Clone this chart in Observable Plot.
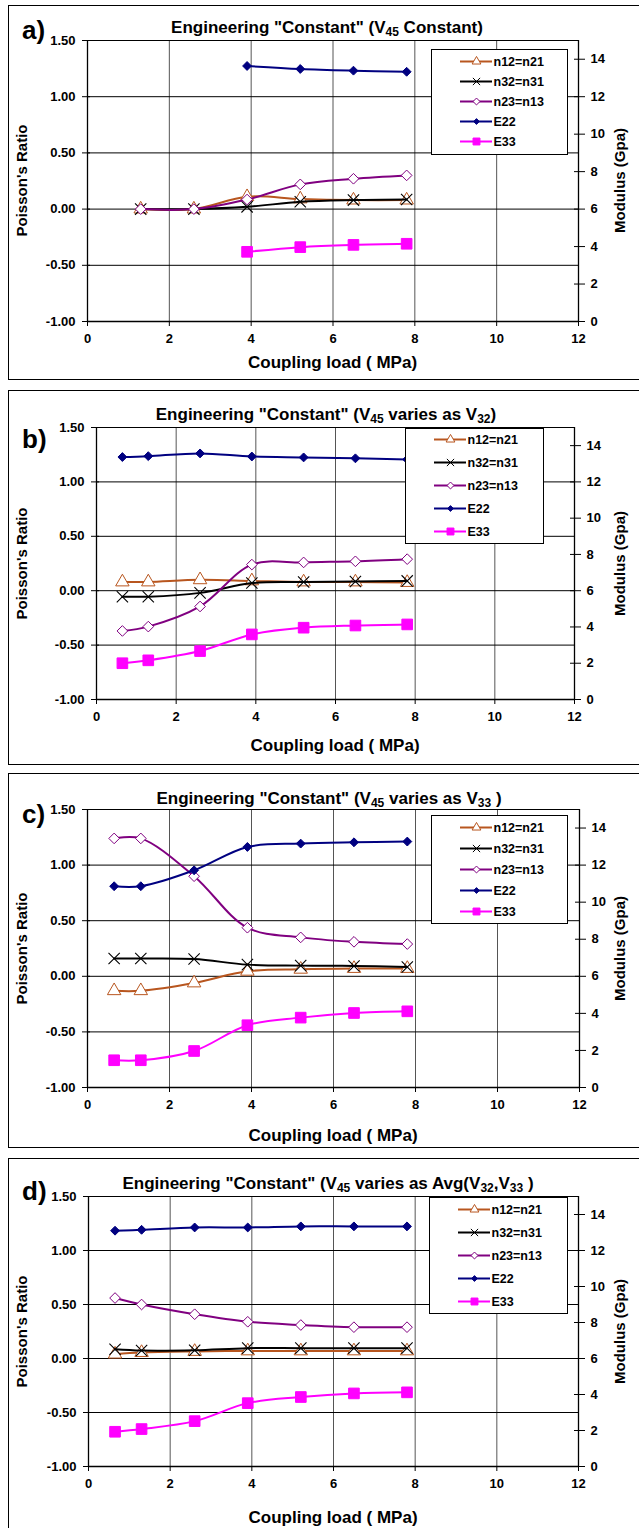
<!DOCTYPE html>
<html><head><meta charset="utf-8">
<script src="https://cdn.jsdelivr.net/npm/d3@7"></script>
<script src="https://cdn.jsdelivr.net/npm/@observablehq/plot@0.6"></script>
<style>
body{margin:0;background:#fff;font-family:"Liberation Sans",Arial,sans-serif;}
#root{position:relative;width:639px;height:1528px;overflow:hidden;background:#fff;}
.panel{position:absolute;left:8px;width:640px;height:373px;border:1px solid #000;background:#fff;}
.panel svg{position:absolute;left:0;top:0;}
.ptitle{position:absolute;font-weight:bold;font-size:17px;white-space:nowrap;transform:translate(-50%,-50%);line-height:1;width:max-content;}
.ptitle sub{font-size:12px;vertical-align:-3px;line-height:0;}
.ptag{position:absolute;font-weight:bold;font-size:26px;line-height:1;}
.atitle{position:absolute;font-weight:bold;white-space:nowrap;line-height:1;width:max-content;height:1em;transform-origin:50% 50%;}
.legend{position:absolute;border:1px solid #000;background:#fff;box-sizing:border-box;}
.legend svg{position:absolute;left:0;top:0;}
</style></head><body><div id="root"></div>
<script>
// ---- data ----
const loads = [0.65, 1.3, 2.6, 3.9, 5.2, 6.5, 7.8];           // Coupling load (MPa)
const seriesNames = ["n12=n21", "n32=n31", "n23=n13", "E22", "E33"];
const modulusSeries = ["E22", "E33"];                          // plotted on the right axis (GPa)
const xTicks = [0, 2, 4, 6, 8, 10, 12];
const poissonTicks = [-1, -0.5, 0, 0.5, 1, 1.5];
const modulusTicks = [0, 2, 4, 6, 8, 10, 12, 14];

// panel a) V45 constant
const aN12 = [null, 0, 0, 0.11, 0.09, 0.08, 0.08];
const aN32 = [null, 0, 0, 0.02, 0.065, 0.08, 0.085];
const aN23 = [null, 0, 0, 0.085, 0.22, 0.27, 0.30];
const aE22 = [null, null, null, 13.64, 13.48, 13.39, 13.33];
const aE33 = [null, null, null, 3.72, 3.97, 4.09, 4.15];
// panel b) V45 varies as V32
const bN12 = [0.08, 0.08, 0.10, 0.09, 0.08, 0.08, 0.075];
const bN32 = [-0.055, -0.055, -0.02, 0.07, 0.08, 0.085, 0.09];
const bN23 = [-0.37, -0.33, -0.145, 0.24, 0.26, 0.27, 0.29];
const bE22 = [13.37, 13.42, 13.57, 13.40, 13.35, 13.30, 13.24];
const bE33 = [2.0, 2.16, 2.67, 3.59, 3.96, 4.08, 4.14];
// panel c) V45 varies as V33
const cN12 = [-0.13, -0.13, -0.06, 0.045, 0.063, 0.07, 0.07];
const cN32 = [0.16, 0.16, 0.155, 0.105, 0.096, 0.093, 0.084];
const cN23 = [1.24, 1.24, 0.90, 0.437, 0.35, 0.31, 0.29];
const cE22 = [10.86, 10.86, 11.72, 12.98, 13.16, 13.23, 13.27];
const cE33 = [1.47, 1.47, 1.97, 3.36, 3.77, 4.02, 4.11];
// panel d) V45 varies as Avg(V32,V33)
const dN12 = [0.04, 0.055, 0.065, 0.07, 0.07, 0.07, 0.07];
const dN32 = [0.086, 0.074, 0.077, 0.096, 0.096, 0.096, 0.096];
const dN23 = [0.56, 0.50, 0.41, 0.34, 0.31, 0.29, 0.29];
const dE22 = [13.10, 13.15, 13.28, 13.28, 13.34, 13.34, 13.34];
const dE33 = [1.93, 2.08, 2.52, 3.52, 3.86, 4.06, 4.12];

const panelTags = ["a)", "b)", "c)", "d)"];
const panelTitles = [
  ['Engineering "Constant" (V', '45', ' Constant)'],
  ['Engineering "Constant" (V', '45', ' varies as V', '32', ')'],
  ['Engineering "Constant" (V', '45', ' varies as V', '33', ' )'],
  ['Engineering "Constant" (V', '45', ' varies as Avg(V', '32', ',V', '33', ' )']
];
const xLabel = "Coupling load ( MPa)";
const yLabel = "Poisson's Ratio";
const y2Label = "Modulus (Gpa)";

// ---- styles / layout ----
const FONT = '"Liberation Sans", Arial, sans-serif';
const seriesStyle = {
  "n12=n21": {color: "#B8561F", symbol: "triangle", fill: "white", r: 5, sw: 1},
  "n32=n31": {color: "#000000", symbol: "times", fill: "none", r: 5.2, sw: 1.1},
  "n23=n13": {color: "#800080", symbol: "diamond2", fill: "white", r: 4.8, sw: 1},
  "E22": {color: "#000080", symbol: "diamond2", fill: "#000080", r: 4, sw: 1},
  "E33": {color: "#FF00FF", symbol: "square", fill: "#FF00FF", r: 6, sw: 1}
};
const panelValues = [
  [aN12, aN32, aN23, aE22, aE33],
  [bN12, bN32, bN23, bE22, bE33],
  [cN12, cN32, cN23, cE22, cE33],
  [dN12, dN32, dN23, dE22, dE33]
];
const layout = [
  {top: 5,    ml: 78, mr: 61, mt: 34, mb: 58, xdy: 41, tx: 318, ty: 21, tagTop: 10.5, leg: {l: 422, t: 43, w: 137, h: 106}},
  {top: 390,  ml: 87, mr: 65, mt: 36, mb: 65, xdy: 46, tx: 317, ty: 23, tagTop: 34.5, leg: {l: 396, t: 37, w: 139, h: 116}},
  {top: 773,  ml: 78, mr: 60, mt: 35, mb: 60, xdy: 48, tx: 320, ty: 24, tagTop: 27,   leg: {l: 422, t: 41, w: 137, h: 109}},
  {top: 1158, ml: 79, mr: 61, mt: 37, mb: 66, xdy: 51, tx: 319, ty: 24, tagTop: 18.5, leg: {l: 420, t: 38, w: 139, h: 117}}
];
const toPoisson = m => -1 + m / 6;     // right axis: 0..15 GPa  <->  -1..1.5
const toModulus = p => (p + 1) * 6;

const root = document.getElementById("root");

function addText(parent, text, cx, cy, size, rotate) {
  const el = document.createElement("div");
  el.className = "atitle";
  el.textContent = text;
  el.style.fontSize = size + "px";
  parent.appendChild(el);
  const w = el.offsetWidth, h = el.offsetHeight;
  el.style.left = (cx - w / 2) + "px";
  el.style.top = (cy - h / 2) + "px";
  if (rotate) el.style.transform = "rotate(" + rotate + "deg)";
}

panelValues.forEach((vals, pi) => {
  const L = layout[pi];
  const panel = document.createElement("div");
  panel.className = "panel";
  panel.style.top = L.top + "px";
  root.appendChild(panel);

  const rows = [];
  seriesNames.forEach((name, si) => {
    vals[si].forEach((v, j) => {
      if (v == null) return;
      const isMod = modulusSeries.includes(name);
      rows.push({series: name, x: loads[j], value: v, y: isMod ? toPoisson(v) : v});
    });
  });

  const seriesMarks = [];
  seriesNames.forEach(name => {
    const s = seriesStyle[name];
    const d = rows.filter(r => r.series === name);
    seriesMarks.push(Plot.line(d, {x: "x", y: "y", stroke: s.color, strokeWidth: 2, curve: "catmull-rom"}));
    seriesMarks.push(Plot.dot(d, {x: "x", y: "y", symbol: () => s.symbol, stroke: s.color, fill: s.fill, r: s.r, strokeWidth: s.sw}));
  });

  const W = 630, H = 373;
  const chart = Plot.plot({
    width: W, height: H,
    marginLeft: L.ml, marginRight: L.mr, marginTop: L.mt, marginBottom: L.mb,
    style: {fontFamily: FONT, fontSize: "13px", fontWeight: "bold", color: "#000", background: "transparent", overflow: "visible"},
    x: {domain: [0, 12]},
    y: {domain: [-1, 1.5]},
    symbol: {type: "identity"},
    marks: [
      Plot.gridX(xTicks, {stroke: "#555", strokeOpacity: 1, strokeWidth: 1}),
      Plot.gridY(poissonTicks, {stroke: "#000", strokeOpacity: 1, strokeWidth: 1}),
      Plot.ruleX([0, 12], {stroke: "#000", strokeWidth: 1.3}),
      Plot.ruleY([-1], {stroke: "#000", strokeWidth: 1.3}),
      Plot.axisX(xTicks, {tickSize: 5, tickPadding: 7, tickFormat: d => String(d), label: null}),
      Plot.axisY(poissonTicks, {anchor: "left", tickSize: 5, tickPadding: 7, tickFormat: d => d.toFixed(2), label: null}),
      Plot.axisY(poissonTicks, {anchor: "left", tickSize: -3, tickFormat: () => "", label: null}),
      Plot.axisY(modulusTicks.map(toPoisson), {anchor: "right", tickSize: 6, tickPadding: 6, tickFormat: d => String(Math.round(toModulus(d))), label: null}),
      Plot.axisY(modulusTicks.map(toPoisson), {anchor: "right", tickSize: -5, tickFormat: () => "", label: null}),
      ...seriesMarks
    ]
  });
  panel.appendChild(chart);

  // axis titles
  const frameMidY = (L.mt + (H - L.mb)) / 2;
  const frameMidX = (L.ml + (W - L.mr)) / 2;
  addText(panel, xLabel, frameMidX, H - L.mb + L.xdy, 17, 0);
  addText(panel, yLabel, 13, frameMidY, 15, -90);
  addText(panel, y2Label, 610, frameMidY, 15, -90);

  // title with subscripts
  const t = document.createElement("div");
  t.className = "ptitle";
  t.style.left = L.tx + "px";
  t.style.top = L.ty + "px";
  panelTitles[pi].forEach((part, k) => {
    if (k % 2 === 1) { const sb = document.createElement("sub"); sb.textContent = part; t.appendChild(sb); }
    else t.appendChild(document.createTextNode(part));
  });
  panel.appendChild(t);

  const tag = document.createElement("div");
  tag.className = "ptag";
  tag.style.left = "13px";
  tag.style.top = L.tagTop + "px";
  tag.textContent = panelTags[pi];
  panel.appendChild(tag);

  // legend (drawn with Plot)
  const lg = document.createElement("div");
  lg.className = "legend";
  Object.assign(lg.style, {left: L.leg.l + "px", top: L.leg.t + "px", width: L.leg.w + "px", height: L.leg.h + "px"});
  const lw = L.leg.w - 2, lh = L.leg.h - 2;
  const legRows = seriesNames.map(n => ({series: n}));
  const legMarks = [];
  seriesNames.forEach(name => {
    const s = seriesStyle[name];
    const d = legRows.filter(r => r.series === name);
    legMarks.push(Plot.ruleY(d, {y: "series", x1: 28, x2: 60, stroke: s.color, strokeWidth: 2}));
    legMarks.push(Plot.dot(d, {y: "series", x: 44, symbol: () => s.symbol, stroke: s.color, fill: s.fill, r: s.r * 0.65, strokeWidth: 1}));
  });
  legMarks.push(Plot.text(legRows, {y: "series", x: 61, text: "series", textAnchor: "start"}));
  const legPlot = Plot.plot({
    width: lw, height: lh, margin: 0,
    style: {fontFamily: FONT, fontSize: "12.5px", fontWeight: "bold", color: "#000", background: "transparent"},
    x: {domain: [0, lw], range: [0, lw], axis: null},
    y: {type: "point", domain: seriesNames, range: [10, lh - 12], padding: 0, axis: null},
    symbol: {type: "identity"},
    marks: legMarks
  });
  lg.appendChild(legPlot);
  panel.appendChild(lg);
});
</script></body></html>
